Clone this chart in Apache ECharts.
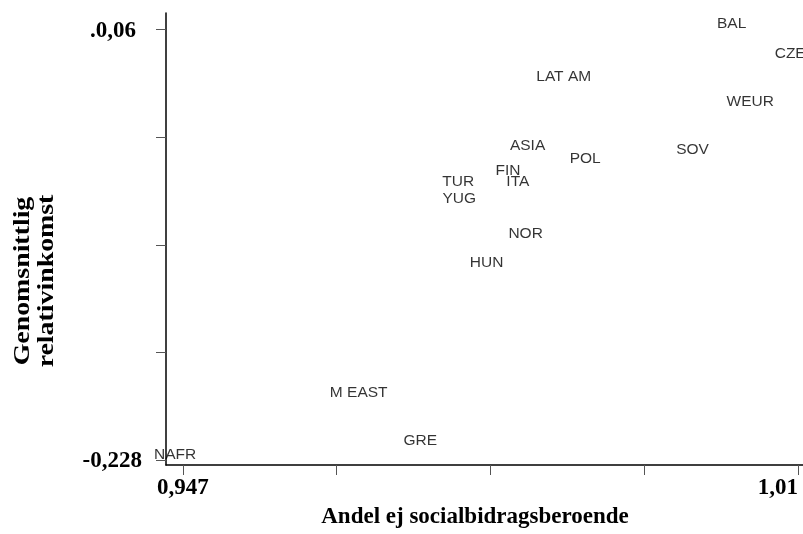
<!DOCTYPE html>
<html>
<head>
<meta charset="utf-8">
<script src="https://cdn.jsdelivr.net/npm/echarts@6/dist/echarts.min.js"></script>
<style>html,body{margin:0;padding:0;background:#fff;}#c{width:803px;height:534px;}</style>
</head>
<body>
<div id="c"></div>
<script>
var countries = ['BAL','CZE','WEUR','SOV','LAT AM','ASIA','POL','FIN','ITA','TUR','YUG','NOR','HUN','M EAST','GRE','NAFR'];
var xValues = [1.0032,1.0092,1.0051,0.9992,0.9860,0.9823,0.9882,0.9803,0.9813,0.9752,0.9753,0.9821,0.9781,0.9650,0.9713,0.9462];
var yValues = [0.0633,0.0433,0.0113,-0.0207,0.0280,-0.0180,-0.0267,-0.0347,-0.0420,-0.0420,-0.0533,-0.0767,-0.0960,-0.1827,-0.2147,-0.2240];
var xTicks = [0.947,0.96275,0.9785,0.99425,1.01];
var xTickLabels = {'0.947':'0,947','1.01':'1,01'};
var yTicks = [0.06,-0.012,-0.084,-0.156,-0.228];
var yTickLabels = {'0.06':'.0,06','-0.228':'-0,228'};
var xTitle = 'Andel ej socialbidragsberoende';
var yTitle = 'Genomsnittlig\nrelativinkomst';

var data = countries.map(function(n,i){ return {name:n, value:[xValues[i], yValues[i]]}; });
var serif = '"Liberation Serif","Times New Roman",serif';
var chart = echarts.init(document.getElementById('c'), null, {renderer:'canvas'});
chart.setOption({
  animation:false,
  backgroundColor:'#fff',
  grid:{left:166, right:0, top:13, bottom:58, containLabel:false},
  xAxis:{
    type:'value', min:0.94526, max:1.01051,
    splitLine:{show:false},
    axisLine:{show:true, onZero:false, lineStyle:{color:'#000', width:1.5}},
    axisTick:{show:true, length:10, customValues:xTicks, lineStyle:{color:'#555', width:1}},
    axisLabel:{show:true, customValues:[0.947,1.01], margin:12, alignMaxLabel:'right',
      fontFamily:serif, fontWeight:'bold', fontSize:23, color:'#000',
      formatter:function(v){ return xTickLabels[String(v)] || ''; }},
    name:xTitle, nameLocation:'middle', nameGap:41,
    nameTextStyle:{fontFamily:serif, fontWeight:'bold', fontSize:23, color:'#000', padding:[0,19,0,0]}
  },
  yAxis:{
    type:'value', min:-0.2309, max:0.07068,
    splitLine:{show:false},
    axisLine:{show:true, onZero:false, lineStyle:{color:'#000', width:1.5}},
    axisTick:{show:true, length:10, customValues:yTicks, lineStyle:{color:'#555', width:1}},
    axisLabel:{show:true, customValues:[0.06,-0.228], margin:24,
      fontFamily:serif, fontWeight:'bold', fontSize:23, color:'#000',
      formatter:function(v){ var s = yTickLabels[String(v)] || ''; return v > 0 ? '{p|' + s + '}' : s; },
      rich:{p:{fontFamily:serif, fontWeight:'bold', fontSize:23, color:'#000', padding:[4,6,0,0]}}}
  },
  graphic:[{
    type:'text', x:35, y:281, rotation:Math.PI/2, scaleX:1.16, scaleY:1,
    style:{text:yTitle, font:'bold 24px "Liberation Serif", serif', fill:'#000',
      align:'center', verticalAlign:'middle', lineHeight:24}
  }],
  series:[{
    type:'scatter', data:data, symbolSize:1,
    itemStyle:{color:'rgba(0,0,0,0)'},
    label:{show:true, position:'inside', formatter:'{b}',
      fontFamily:'"Liberation Sans", Arial, sans-serif', fontSize:15.5, color:'#000'}
  }]
});
</script>
</body>
</html>
